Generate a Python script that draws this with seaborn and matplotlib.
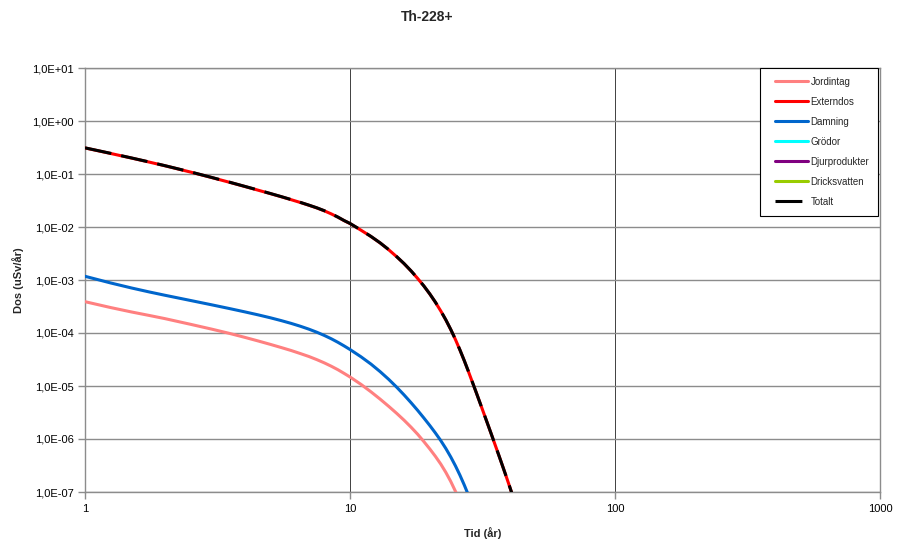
import numpy as np
import pandas as pd
import matplotlib
matplotlib.use("Agg")
import matplotlib.pyplot as plt
from matplotlib.lines import Line2D
from matplotlib.legend_handler import HandlerLine2D
from matplotlib.ticker import FuncFormatter, FixedLocator, NullLocator
import seaborn as sns

# Dose contributions for Th-228+ (uSv/år) against time (år)
tid = [1, 1.25, 1.5, 1.75, 2, 2.5, 3, 3.5, 4, 4.5, 5, 5.5, 6, 6.5, 7, 7.5,
       8, 8.5, 9, 9.5, 10, 11, 12, 13, 14, 15, 16, 17, 18, 19, 20, 21, 22,
       23, 24, 25, 26, 27, 28, 29, 30, 31, 32, 33, 34, 35, 36, 37, 38, 39,
       40, 41, 42]

jordintag = [3.90e-4, 3.02e-4, 2.49e-4, 2.14e-4, 1.87e-4, 1.46e-4, 1.186e-4,
             9.86e-5, 8.30e-5, 7.08e-5, 6.11e-5, 5.32e-5, 4.67e-5, 4.09e-5,
             3.60e-5, 3.14e-5, 2.73e-5, 2.36e-5, 2.03e-5, 1.73e-5, 1.48e-5,
             1.074e-5, 7.76e-6, 5.64e-6, 4.13e-6, 3.05e-6, 2.26e-6, 1.67e-6,
             1.23e-6, 8.93e-7, 6.50e-7, 4.71e-7, 3.37e-7, 2.34e-7, 1.58e-7,
             1.03e-7, 6.59e-8]

externdos = [0.310, 0.244, 0.1995, 0.1675, 0.1432, 0.1089, 0.0859, 0.0700,
             0.0583, 0.0495, 0.0427, 0.03724, 0.03273, 0.02897, 0.02570,
             0.02286, 0.02018, 0.01766, 0.01531, 0.01318, 0.01161,
             8.71e-3, 6.61e-3, 4.99e-3, 3.72e-3, 2.75e-3, 2.03e-3, 1.48e-3,
             1.07e-3, 7.69e-4, 5.45e-4, 3.80e-4, 2.61e-4, 1.76e-4, 1.16e-4,
             7.52e-5, 4.76e-5, 2.99e-5, 1.86e-5, 1.16e-5, 7.35e-6, 4.69e-6,
             3.03e-6, 1.98e-6, 1.31e-6, 8.71e-7, 5.86e-7, 3.97e-7, 2.71e-7,
             1.86e-7, 1.28e-7, 8.85e-8, 6.15e-8]

damning = [1.175e-3, 8.79e-4, 7.06e-4, 5.94e-4, 5.16e-4, 4.11e-4, 3.41e-4,
           2.90e-4, 2.51e-4, 2.20e-4, 1.94e-4, 1.714e-4, 1.517e-4, 1.340e-4,
           1.180e-4, 1.033e-4, 8.99e-5, 7.78e-5, 6.68e-5, 5.71e-5, 4.88e-5,
           3.56e-5, 2.59e-5, 1.862e-5, 1.334e-5, 9.51e-6, 6.78e-6, 4.84e-6,
           3.47e-6, 2.49e-6, 1.80e-6, 1.30e-6, 9.35e-7, 6.61e-7, 4.58e-7,
           3.11e-7, 2.07e-7, 1.35e-7, 8.67e-8, 5.50e-8]

totalt = [0.3116, 0.2452, 0.2005, 0.1683, 0.1439, 0.1095, 0.0864, 0.0704,
          0.0586, 0.0498, 0.04296, 0.03746, 0.03293, 0.02915, 0.02585,
          0.02299, 0.02030, 0.01776, 0.01540, 0.01325, 0.01167,
          8.76e-3, 6.64e-3, 5.01e-3, 3.74e-3, 2.76e-3, 2.04e-3, 1.486e-3,
          1.074e-3, 7.72e-4, 5.47e-4, 3.82e-4, 2.62e-4, 1.768e-4, 1.166e-4,
          7.56e-5, 4.78e-5, 3.00e-5, 1.87e-5, 1.165e-5, 7.36e-6, 4.69e-6,
          3.03e-6, 1.98e-6, 1.31e-6, 8.71e-7, 5.86e-7, 3.97e-7, 2.71e-7,
          1.86e-7, 1.28e-7, 8.85e-8, 6.15e-8]

# Pathways that stay below the plotted range (legend entries only)
grodor = []
djurprodukter = []
dricksvatten = []

x_ticks = [1, 10, 100, 1000]
x_ticklabels = ["1", "10", "100", "1000"]
y_exponents = [1, 0, -1, -2, -3, -4, -5, -6, -7]

colors = {
    "Jordintag": "#FF8080",
    "Externdos": "#FF0000",
    "Damning": "#0066CC",
    "Grödor": "#00FFFF",
    "Djurprodukter": "#800080",
    "Dricksvatten": "#99CC00",
    "Totalt": "#000000",
}


class InsetLine(HandlerLine2D):
    """Legend line that starts a little to the right of the handle box."""

    def get_xdata(self, legend, xdescent, ydescent, width, height, fontsize):
        shift = 0.62 * fontsize
        return [-xdescent + shift, -xdescent + width], [-xdescent + 0.5 * width]


sns.set_style("white")
plt.rcParams["font.family"] = ["Liberation Sans", "DejaVu Sans"]

fig = plt.figure(figsize=(8.98, 5.39), dpi=100)
ax = fig.add_axes([85 / 898, 1 - 492 / 539, 795 / 898, 424 / 539])

lw = 2.2
series = [("Jordintag", jordintag), ("Externdos", externdos), ("Damning", damning),
          ("Grödor", grodor), ("Djurprodukter", djurprodukter),
          ("Dricksvatten", dricksvatten)]
for name, vals in series:
    if len(vals) == 0:
        continue
    sns.lineplot(x=tid[:len(vals)], y=vals, ax=ax, color=colors[name],
                 linewidth=lw, legend=False, zorder=3)
totalt_dash = (0, (8.8, 3.3))
sns.lineplot(x=tid[:len(totalt)], y=totalt, ax=ax, color=colors["Totalt"],
             linewidth=lw, linestyle=totalt_dash, legend=False, zorder=4)

ax.set_xscale("log")
ax.set_yscale("log")
ax.set_xlim(1, 1000)
ax.set_ylim(1e-7, 1e1)

ax.xaxis.set_major_locator(FixedLocator(x_ticks))
ax.xaxis.set_minor_locator(NullLocator())
ax.xaxis.set_major_formatter(FuncFormatter(
    lambda v, p: x_ticklabels[x_ticks.index(int(round(v)))] if int(round(v)) in x_ticks else ""))
ax.yaxis.set_major_locator(FixedLocator([10.0 ** e for e in y_exponents]))
ax.yaxis.set_minor_locator(NullLocator())
ax.yaxis.set_major_formatter(FuncFormatter(lambda v, p: "1,0E%+03d" % int(round(np.log10(v)))))

# Grid: grey horizontal, darker vertical
ax.yaxis.grid(True, color="#8c8c8c", linewidth=1.0, zorder=1)
ax.xaxis.grid(True, color="#404040", linewidth=0.7, zorder=1)
ax.set_axisbelow(True)
for s in ax.spines.values():
    s.set_color("#8c8c8c")
    s.set_linewidth(1.0)

ax.tick_params(axis="both", which="major", direction="out", length=5,
               width=1.0, color="#8c8c8c", labelsize=8, labelcolor="#000000",
               pad=3, bottom=True, left=True)
ax.tick_params(axis="x", pad=4)

ax.set_xlabel("Tid (år)", fontsize=8, fontweight="bold", labelpad=9)
ax.set_ylabel("Dos (uSv/år)", fontsize=8, fontweight="bold", labelpad=6)
fig.text(427 / 898, 1 - 17 / 539, "Th-228+", fontsize=10, fontweight="bold",
         ha="center", va="center")

legend_order = ["Jordintag", "Externdos", "Damning", "Grödor", "Djurprodukter",
                "Dricksvatten", "Totalt"]
handles = []
for name in legend_order:
    ls = totalt_dash if name == "Totalt" else "-"
    handles.append(Line2D([], [], color=colors[name], linewidth=lw, linestyle=ls))
leg = ax.legend(handles, legend_order, loc="upper right", bbox_to_anchor=(0.9975, 1.0),
                fontsize=7, frameon=True, fancybox=False, edgecolor="#000000",
                framealpha=1.0, handlelength=4.0, handletextpad=0.3,
                labelspacing=1.03, borderpad=0.9, borderaxespad=0.0,
                handler_map={Line2D: InsetLine()})
leg.get_frame().set_linewidth(0.8)

fig.savefig("out.png", dpi=100)
